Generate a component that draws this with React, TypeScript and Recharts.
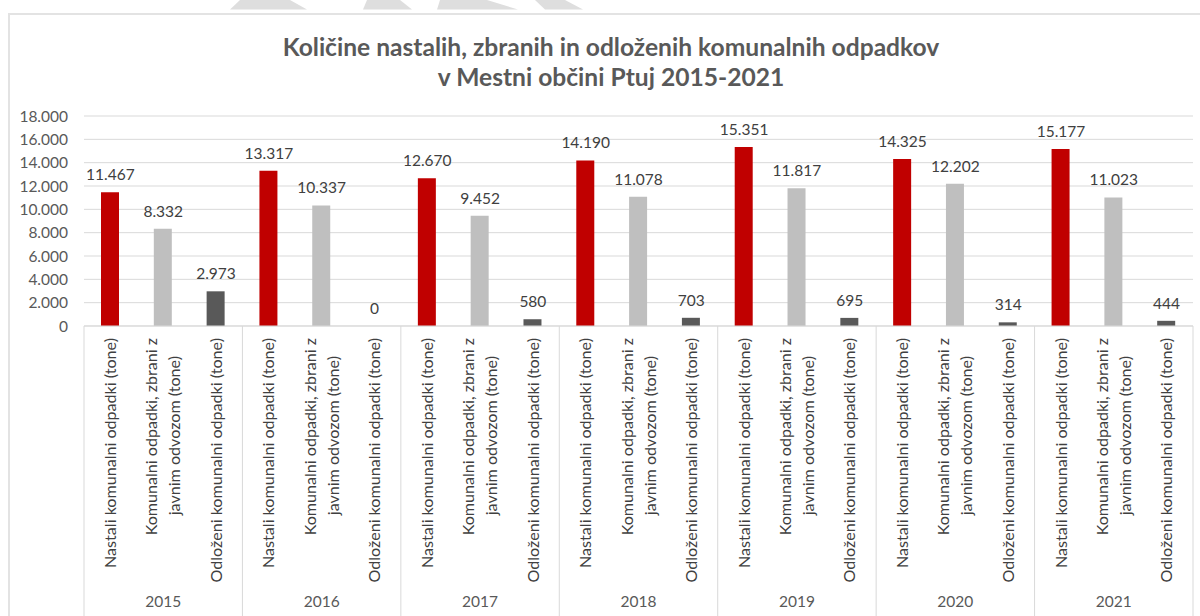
import React from 'react';
import { ComposedChart, Bar, Line, XAxis, YAxis, CartesianGrid, LabelList, Cell } from 'recharts';

const years = ['2015', '2016', '2017', '2018', '2019', '2020', '2021'];
const seriesLabels: string[][] = [
  ['Nastali komunalni odpadki (tone)'],
  ['Komunalni odpadki, zbrani z', 'javnim odvozom (tone)'],
  ['Odloženi komunalni odpadki (tone)'],
];
const nastali = [11467, 13317, 12670, 14190, 15351, 14325, 15177];
const zbrani = [8332, 10337, 9452, 11078, 11817, 12202, 11023];
const odlozeni = [2973, 0, 580, 703, 695, 314, 444];
const seriesColors = ['#c00000', '#bfbfbf', '#595959'];
const yTicks = [0, 2000, 4000, 6000, 8000, 10000, 12000, 14000, 16000, 18000];
const titleLines = [
  'Količine nastalih, zbranih in odloženih komunalnih odpadkov',
  'v Mestni občini Ptuj 2015-2021',
];

const FONT = 'Lato, "Open Sans", sans-serif';
const W = 1200;
const H = 616;
const MARGIN = { top: 116, right: 7, bottom: 0, left: 0 };
const Y_W = 84;
const X_H = 290;

const data = years.flatMap((yr, i) =>
  [nastali[i], zbrani[i], odlozeni[i]].map((v, s) => ({
    key: `${yr}-${s}`,
    year: yr,
    series: s,
    value: v,
  }))
);

const fmt = (v: any) => String(v).replace(/\B(?=(\d{3})+(?!\d))/g, '.');

const LINE_GAP = 23;
const LINE2_SHIFT = 18;
const CAT_FS = 16.1;

function CatTick(props: any) {
  const { x, y, payload } = props;
  const idx = props.index ?? payload.index ?? 0;
  const d = data[idx];
  if (!d) return null;
  const plotW = W - MARGIN.left - MARGIN.right - Y_W;
  const half = payload.offset || plotW / data.length / 2;
  const top = y + 12;
  const lines = seriesLabels[d.series];
  const n = lines.length;
  return (
    <g>
      {lines.map((ln, k) => {
        const lx = x + (k - (n - 1) / 2) * LINE_GAP;
        const ly = top + (k === 0 ? 0 : LINE2_SHIFT);
        return (
          <text
            key={k}
            x={lx}
            y={ly}
            transform={`rotate(-90, ${lx}, ${ly})`}
            textAnchor="end"
            dy="0.35em"
            fontSize={CAT_FS}
            fill="#404040"
            fontFamily={FONT}
          >
            {ln}
          </text>
        );
      })}
      {d.series === 1 && (
        <text x={x} y={y + 281} textAnchor="middle" fontSize={15.5} fill="#595959" fontFamily={FONT}>
          {d.year}
        </text>
      )}
      {d.series === 0 && (
        <line x1={x - half} x2={x - half} y1={y} y2={y + 300} stroke="#d9d9d9" strokeWidth={1} />
      )}
      {idx === data.length - 1 && (
        <line x1={x + half} x2={x + half} y1={y} y2={y + 300} stroke="#d9d9d9" strokeWidth={1} />
      )}
    </g>
  );
}

export default function App() {
  return (
    <div style={{ position: 'absolute', left: 0, top: 0, width: W, height: H, background: '#fff', overflow: 'hidden' }}>
      <svg width={W} height={H} style={{ position: 'absolute', left: 0, top: 0 }}>
        <polygon points="240,0 290,0 307,9.5 230,9.5" fill="#dedede" />
        <polygon points="367,0 400,0 412,9.5 363,9.5" fill="#dedede" />
        <polygon points="440,0 487,0 518,9.5 437,9.5" fill="#dedede" />
        <polygon points="535,0 565,0 583,9.5 545,9.5" fill="#dedede" />
        <path d={`M9,${H + 5} L9,14 L${W + 5},14`} fill="none" stroke="#e3e3e3" strokeWidth={2} />
        {titleLines.map((t, i) => (
          <text
            key={i}
            x={611}
            y={56 + i * 30}
            textAnchor="middle"
            fontSize={24.6}
            fontWeight="bold"
            fill="#595959"
            fontFamily={FONT}
          >
            {t}
          </text>
        ))}
      </svg>
      <div style={{ position: 'absolute', left: 0, top: 0 }}>
        <ComposedChart width={W} height={H} data={data} margin={MARGIN}>
          <CartesianGrid vertical={false} stroke="#d9d9d9" />
          <YAxis
            type="number"
            domain={[0, 18000]}
            ticks={yTicks}
            tickFormatter={fmt}
            axisLine={false}
            tickLine={false}
            tickSize={0}
            tickMargin={16}
            width={Y_W}
            tick={{ fill: '#595959', fontSize: 15.5, fontFamily: FONT }}
          />
          <XAxis
            dataKey="key"
            interval={0}
            height={X_H}
            tickLine={false}
            tickSize={0}
            tickMargin={0}
            axisLine={{ stroke: '#d9d9d9' }}
            tick={<CatTick />}
          />
          <Bar dataKey="value" barSize={18} isAnimationActive={false}>
            {data.map((d) => (
              <Cell key={d.key} fill={seriesColors[d.series]} />
            ))}
          </Bar>
          <Line
            dataKey="value"
            stroke="none"
            dot={false}
            activeDot={false}
            legendType="none"
            isAnimationActive={false}
          >
            <LabelList
              dataKey="value"
              position="top"
              offset={12}
              formatter={fmt}
              fill="#404040"
              fontSize={15.5}
              fontFamily={FONT}
            />
          </Line>
        </ComposedChart>
      </div>
    </div>
  );
}
